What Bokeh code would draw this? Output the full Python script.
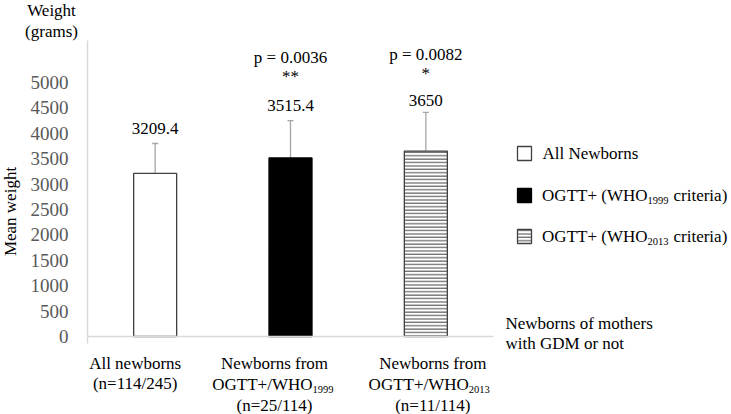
from bokeh.plotting import figure
from bokeh.models import Range1d, FixedTicker, Whisker, TeeHead, ColumnDataSource
from bokeh.core.properties import value
from bokeh.embed import file_html
from bokeh.resources import INLINE

# ---------------- data ----------------
cat_line1 = ["All newborns", "Newborns from", "Newborns from"]
cat_line2_main = ["(n=114/245)", "OGTT+/WHO", "OGTT+/WHO"]
cat_line2_sub = ["", "1999", "2013"]
cat_line3 = ["", "(n=25/114)", "(n=11/114)"]
mean_weight = [3209.4, 3515.4, 3650.0]
sd_weight = [590, 735, 760]
value_labels = ["3209.4", "3515.4", "3650"]
p_values = ["", "p = 0.0036", "p = 0.0082"]
significance = ["", "**", "*"]
legend_main = ["All Newborns", "OGTT+ (WHO", "OGTT+ (WHO"]
legend_sub = ["", "1999", "2013"]
legend_tail = ["", "criteria)", "criteria)"]
y_ticks = list(range(0, 5001, 500))
y_axis_top = 5827

# ---------------- layout / styles ----------------
W, H = 731, 414
ORIG_X, ORIG_Y = 87, 336          # canvas px of the data origin
PX_X = 406 / 3.0                  # px per category
PX_Y = 25.4 / 500                 # px per gram
FONT = "Liberation Serif"
bar_fill = ["white", "black", "white"]
bar_line = ["#404040", "black", "#404040"]
bar_hatch = [" ", " ", "horizontal_line"]
cat_offset = [-20, -16, 7]        # label centre offsets (px) from bar centre
split_offset = [22, 22, 43]       # subscript start (px) from bar centre
val_off = [15, 15, 12]
star_off = [0, 44, 39]
p_off = [0, 63, 58]


def dx(px):
    return px / PX_X


def dy(px):
    return px / PX_Y


def cx(X):   # canvas x -> data
    return (X - ORIG_X) / PX_X


def cy(Y):   # canvas y -> data
    return (ORIG_Y - Y) / PX_Y


p = figure(width=W, height=H, min_border=0,
           x_range=Range1d(cx(0), cx(W)), y_range=Range1d(cy(H), cy(0)),
           output_backend="svg", toolbar_location=None)
p.outline_line_color = None
p.xgrid.visible = False
p.ygrid.visible = False

ya = p.yaxis[0]
ya.fixed_location = 0
ya.bounds = (0, y_axis_top)
ya.ticker = FixedTicker(ticks=y_ticks)
ya.major_tick_line_color = None
ya.minor_tick_line_color = None
ya.major_tick_out = 0
ya.major_tick_in = 0
ya.axis_line_color = "#d9d9d9"
ya.axis_line_width = 1.5
ya.major_label_text_font = FONT
ya.major_label_text_font_size = "19px"
ya.major_label_text_color = "#595959"
ya.major_label_standoff = 19

xa = p.xaxis[0]
xa.fixed_location = 0
xa.bounds = (0, 3)
xa.ticker = FixedTicker(ticks=[0])
xa.major_tick_out = 7
xa.major_tick_in = 0
xa.major_tick_line_color = "#d9d9d9"
xa.major_tick_line_width = 1.5
xa.minor_tick_line_color = None
xa.axis_line_color = "#d9d9d9"
xa.axis_line_width = 1.5
xa.major_label_overrides = {0: ""}
xa.major_label_text_font_size = "1px"

xs = [i + 0.5 for i in range(len(mean_weight))]
upper = [m + s for m, s in zip(mean_weight, sd_weight)]
src = ColumnDataSource(dict(x=xs, top=mean_weight, upper=upper,
                            fill=bar_fill, line=bar_line, hatch=bar_hatch))
p.vbar(x="x", top="top", bottom=0, width=dx(43), source=src,
       fill_color="fill", line_color="line", line_width=1.3,
       hatch_pattern="hatch", hatch_color="#404040", hatch_scale=3.4,
       hatch_weight=1)

p.add_layout(Whisker(base="x", lower="top", upper="upper", source=src,
                     line_color="#a6a6a6", line_width=1.3,
                     upper_head=TeeHead(size=6, line_color="#a6a6a6",
                                        line_width=1.3),
                     lower_head=None))


def add_text(txt, x, y, align="center", size="17px", color="black", angle=0):
    if not txt:
        return
    p.text(x=[x], y=[y], text=[txt], text_align=align,
           text_baseline="middle", text_font=value(FONT),
           text_font_size=size, text_color=color, angle=angle)


# value labels, stars, p-values
for i, x in enumerate(xs):
    add_text(value_labels[i], x, upper[i] + dy(val_off[i]))
    add_text(significance[i], x, upper[i] + dy(star_off[i]), size="17px")
    add_text(p_values[i], x, upper[i] + dy(p_off[i]))

# category labels
for i, x in enumerate(xs):
    add_text(cat_line1[i], x + dx(cat_offset[i]), dy(-27))
    if cat_line2_sub[i]:
        add_text(cat_line2_main[i], x + dx(split_offset[i]), dy(-48),
                 align="right")
        add_text(cat_line2_sub[i], x + dx(split_offset[i]), dy(-53),
                 align="left", size="10.5px")
        add_text(cat_line3[i], x + dx(cat_offset[i]), dy(-69))
    else:
        add_text(cat_line2_main[i], x + dx(cat_offset[i]), dy(-47))

# axis titles and notes
add_text("Weight", cx(51), cy(10))
add_text("(grams)", cx(51), cy(31))
add_text("Mean weight", cx(10), cy(211), angle=1.5708)
add_text("Newborns of mothers", cx(505), cy(323), align="left")
add_text("with GDM or not", cx(505), cy(343), align="left")

# legend
leg_rows = [153, 195, 236]   # canvas y of rows
p.rect(x=[cx(524)] * 3, y=[cy(r) for r in leg_rows], width=14, height=14,
       width_units="screen", height_units="screen",
       fill_color=bar_fill, line_color=bar_line, line_width=1.3,
       hatch_pattern=bar_hatch, hatch_color="#404040", hatch_scale=3.4,
       hatch_weight=1)
for i, row in enumerate(leg_rows):
    if legend_sub[i]:
        add_text(legend_main[i], cx(647), cy(row), align="right")
        add_text(legend_sub[i], cx(647), cy(row) - dy(5), align="left",
                 size="10.5px")
        add_text(legend_tail[i], cx(673), cy(row), align="left")
    else:
        add_text(legend_main[i], cx(542), cy(row), align="left")

open("out.html", "w").write(file_html(p, INLINE))
